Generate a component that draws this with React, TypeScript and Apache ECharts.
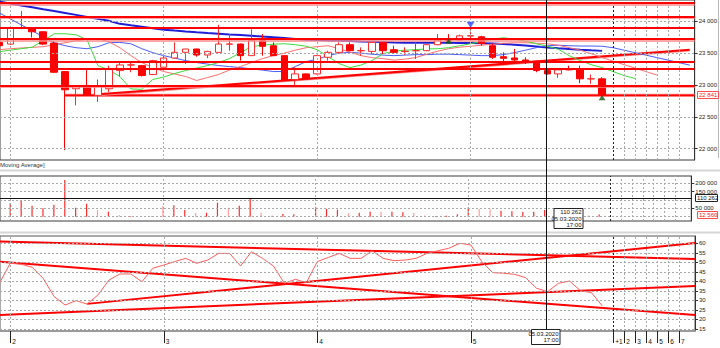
import React, { useEffect, useRef } from "react";
import * as echarts from "echarts";

// ---------- data (bar numbers: -1 = last bar of day 1, 0 = first bar of day 2, ...) ----------
const FIRST_BAR = -1;
const opens = [23669, 23643, 23895, 23888, 23836, 23659, 23210, 22940, 22992, 22836, 22940, 23226, 23313, 23304, 23164, 23278, 23424, 23513, 23565, 23471, 23513, 23641, 23643, 23461, 23695, 23617, 23461, 23086, 23174, 23174, 23435, 23513, 23633, 23537, 23528, 23669, 23554, 23526, 23537, 23539, 23633, 23721, 23705, 23770, 23758, 23617, 23445, 23424, 23393, 23372, 23226, 23174, 23252, 23252, 23094, 23096];
const closes = [23617, 23903, 23900, 23836, 23643, 23200, 22924, 22976, 22836, 22976, 23242, 23315, 23317, 23148, 23383, 23424, 23513, 23565, 23471, 23528, 23643, 23645, 23461, 23705, 23607, 23461, 23070, 23174, 23096, 23461, 23513, 23633, 23539, 23541, 23669, 23539, 23513, 23530, 23541, 23633, 23705, 23695, 23773, 23775, 23653, 23435, 23419, 23393, 23356, 23226, 23174, 23237, 23237, 23096, 23098, 22841];
const lows = [23600, 23630, 23877, 23747, 23630, 23190, 21976, 22680, 22830, 22732, 22888, 23133, 23200, 23133, 23155, 23270, 23420, 23330, 23445, 23424, 23508, 23539, 23383, 23455, 23461, 23455, 23060, 22992, 23090, 23165, 23383, 23497, 23530, 23461, 23487, 23487, 23487, 23471, 23409, 23530, 23625, 23690, 23700, 23705, 23617, 23410, 23330, 23330, 23330, 23200, 23165, 23112, 23230, 23028, 23018, 22820];
const highs = [23680, 23910, 24164, 23900, 23845, 23695, 23215, 22980, 23252, 23086, 23304, 23357, 23357, 23315, 23395, 23461, 23669, 23570, 23570, 23535, 23945, 23799, 23650, 23877, 23799, 23669, 23470, 23278, 23180, 23470, 23539, 23669, 23669, 23591, 23695, 23675, 23617, 23591, 23669, 23640, 23799, 23799, 23790, 23905, 23773, 23650, 23513, 23565, 23435, 23383, 23230, 23240, 23304, 23304, 23164, 23122];

const VOL_FIRST_BAR = 0;
const volumes = [80400, 94200, 66000, 50400, 72000, 220200, 54000, 78000, 40200, 30000, 10200, 4200, 4800, 4000, 64200, 68400, 40200, 24000, 24000, 84000, 54000, 66000, 108000, 24000, 6000, 16200, 14400, 4200, 60000, 46200, 42000, 20400, 24000, 30000, 30000, 30000, 26400, 24000, 6000, 4200, 6000, 14400, 56400, 46200, 44400, 36000, 32400, 28200, 30000, 40000, 22000, 15000, 18000, 6000, 12560];
const volLightBars = [8, 10, 14, 17, 20, 23, 31, 34, 37, 43, 44];

const rsi = [39, 49.5, 49.0, 47.4, 41.6, 32.0, 27.6, 29.9, 28.1, 32.9, 40.7, 43.9, 43.9, 39.8, 46.9, 48.6, 50.4, 52.1, 49.5, 51.2, 54.7, 54.7, 48.1, 55.6, 52.1, 48.1, 39.0, 41.1, 39.3, 50.4, 52.6, 54.7, 52.1, 52.1, 56.1, 52.1, 50.9, 51.2, 52.1, 54.7, 56.1, 57.4, 60.0, 59.1, 50.4, 44.6, 44.3, 43.7, 42.0, 36.4, 34.6, 39.0, 40.2, 35.1, 34.1, 27.1];

const maLong = [24312, 24281, 24250, 24222, 24192, 24164, 24133, 24102, 24070, 24039, 24008, 23961, 23938, 23917, 23891, 23870, 23855, 23841, 23828, 23816, 23805, 23794, 23784, 23773, 23761, 23750, 23738, 23723, 23711, 23706, 23700, 23695, 23691, 23684, 23680, 23675, 23669, 23664, 23664, 23664, 23664, 23664, 23661, 23658, 23655, 23652, 23645, 23633, 23620, 23605, 23589, 23577, 23566, 23555, 23545, 23536];
const jaw = [24133, 24039, 23945, 23852, 23758, 23664, 23617, 23586, 23570, 23602, 23664, 23669, 23648, 23570, 23508, 23461, 23422, 23383, 23352, 23328, 23305, 23289, 23273, 23253, 23234, 23211, 23211, 23289, 23367, 23406, 23461, 23500, 23513, 23500, 23484, 23469, 23461, 23469, 23477, 23477, 23484, 23484, 23477, 23469, 23461, 23461, 23477, 23508, 23547, 23586, 23617, 23625, 23617, 23612, 23612, 23609, 23586, 23547, 23508, 23469, 23430, 23391, 23352, 23312];
const teeth = [23555, 23570, 23581, 23591, 23602, 23633, 23664, 23695, 23719, 23727, 23680, 23586, 23461, 23352, 23273, 23211, 23172, 23133, 23070, 23117, 23164, 23234, 23289, 23352, 23414, 23461, 23500, 23547, 23586, 23602, 23617, 23570, 23516, 23461, 23430, 23414, 23391, 23406, 23430, 23484, 23531, 23570, 23594, 23609, 23625, 23641, 23656, 23664, 23664, 23656, 23648, 23625, 23586, 23547, 23492, 23430, 23375, 23320, 23266, 23211, 23156];
const lips = [23523, 23547, 23570, 23594, 23695, 23805, 23805, 23789, 23711, 23305, 23234, 23133, 22938, 22930, 23086, 23125, 23180, 23227, 23266, 23305, 23352, 23414, 23508, 23602, 23625, 23641, 23648, 23633, 23609, 23555, 23445, 23336, 23273, 23312, 23383, 23492, 23531, 23547, 23555, 23566, 23570, 23586, 23617, 23648, 23680, 23719, 23742, 23719, 23688, 23648, 23609, 23563, 23461, 23383, 23320, 23273, 23211, 23148, 23102];

const priceTicks = [22000, 22500, 23000, 23500, 24000];
const volTicks = [50000, 150000, 200000];
const volGrid = [0, 50000, 100000, 150000, 200000];
const rsiTicks = [15, 20, 25, 30, 35, 40, 45, 50, 55, 60];
const dayBars = [0, 14, 28, 42];
const futureBars = [55, 56, 57, 58, 59, 60, 61];
const timeTicks = [0, 14, 28, 42, 55, 56, 57, 58, 59, 60, 61];
const timeLabels = ["2", "3", "4", "5", "+1", "2", "3", "4", "5", "6", "7"];

const levelsStrong = [24294, 24075, 23894, 23722, 23367, 23253, 22984];
const levelsLight = [24258, 24050, 23697, 22970];
const rayStartBar = 5;
const rayPrice = 22836;
const trendMain = [[8, 22852], [62, 23552]];
const rsiTrendA = [[-0.94, 60.9], [62.45, 51.8]];
const rsiTrendB = [[-0.94, 50.3], [62.45, 22.3]];
const rsiTrendC = [[7, 28.2], [62.45, 60.1]];
const rsiTrendD = [[-0.94, 22.4], [62.45, 37.6]];

const fractalHigh = [[42, 23945]];
const fractalLow = [[40, 23686], [54, 22800]];

const crossBar = 49;
const crossVolume = 110262;
const crossDate = "05.03.2020";
const crossTime = "17:00";
const lastPrice = 22841;
const lastVolume = 12560;

// ---------- axis ranges ----------
const XMIN = -0.94;
const XMAX = 62.45;
const PMIN = 21820;
const PMAX = 24336;
const VMIN = -25800;
const VMAX = 244200;
const RMIN = 13.96;
const RMAX = 63.83;

const FONT = "Liberation Sans";
const RED = "#ff0000";
const RED_LIGHT = "#ff8a8a";

const fmt = (v: number) => String(Math.round(v)).replace(/\B(?=(\d{3})+(?!\d))/g, " ");
const pairs = (arr: number[], start: number) => arr.map((v, k) => [start + k, v]);

export default function App() {
  const ref = useRef<HTMLDivElement>(null);
  useEffect(() => {
    const chart = echarts.init(ref.current!, null, { renderer: "svg" });

    const yAxisBase = (grid: number, min: number, max: number, ticks: number[]) => ({
      type: "value",
      gridIndex: grid,
      position: "right",
      min,
      max,
      splitLine: { show: false },
      axisLine: { show: true, onZero: false, lineStyle: { color: "#333", width: 1 } },
      axisTick: { show: true, customValues: ticks, length: 3, lineStyle: { color: "#333" } },
      axisLabel: { customValues: ticks, formatter: (v: number) => fmt(v), fontSize: 6, margin: 4, color: "#222", fontFamily: FONT },
    });
    const xAxisHidden = (grid: number) => ({
      type: "value",
      gridIndex: grid,
      min: XMIN,
      max: XMAX,
      splitLine: { show: false },
      axisLine: { show: false, onZero: false },
      axisTick: { show: false },
      axisLabel: { show: false },
    });

    const dash = (color: string) => ({ color, type: [2, 2] as any, width: 1 });
    const vLines = [
      ...dayBars.map((b) => ({ xAxis: b, lineStyle: dash("#a8a8a8") })),
      ...futureBars.map((b, k) => ({ xAxis: b, lineStyle: dash(k === 0 ? "#222" : "#a8a8a8") })),
    ];
    const gridSeries = (grid: number, hValues: number[]) => ({
      type: "line",
      xAxisIndex: grid,
      yAxisIndex: grid,
      data: [],
      silent: true,
      z: 1,
      markLine: {
        silent: true,
        symbol: "none",
        animation: false,
        label: { show: false },
        lineStyle: dash("#a8a8a8"),
        data: [...hValues.map((v) => ({ yAxis: v })), ...vLines],
      },
    });

    const lineSeries = (grid: number, data: number[][], color: string, width: number, z: number) => ({
      type: "line",
      xAxisIndex: grid,
      yAxisIndex: grid,
      data,
      symbol: "none",
      silent: true,
      clip: true,
      z,
      lineStyle: { color, width },
    });

    const candleData = opens.map((o, k) => [FIRST_BAR + k, o, closes[k], lows[k], highs[k]]);
    const volData = volumes.map((v, k) => {
      const bar = VOL_FIRST_BAR + k;
      return { value: [bar, v], itemStyle: { color: volLightBars.includes(bar) ? "#ff9c9c" : "#ff2a2a" } };
    });

    const option: any = {
      animation: false,
      textStyle: { fontFamily: FONT },
      grid: [
        { left: -1, top: -1, width: 696, height: 161, show: true, borderColor: "#3a3a3a", borderWidth: 1 },
        { left: -1, top: 176, width: 696, height: 45, show: true, borderColor: "#3a3a3a", borderWidth: 1 },
        { left: -1, top: 236, width: 696, height: 95, show: true, borderColor: "#555", borderWidth: 1 },
      ],
      xAxis: [
        xAxisHidden(0),
        xAxisHidden(1),
        {
          type: "value",
          gridIndex: 2,
          min: XMIN,
          max: XMAX,
          splitLine: { show: false },
          axisLine: { show: true, onZero: false, lineStyle: { color: "#9a9a9a", width: 2 } },
          axisTick: { show: true, customValues: timeTicks, length: 12, lineStyle: { color: "#222" } },
          axisLabel: {
            customValues: timeTicks,
            formatter: (v: number) => timeLabels[timeTicks.indexOf(v)] ?? "",
            align: "left",
            margin: 7,
            padding: [0, 0, 0, 2],
            fontSize: 6.5,
            color: "#111",
            fontFamily: FONT,
          },
        },
      ],
      yAxis: [
        yAxisBase(0, PMIN, PMAX, priceTicks),
        yAxisBase(1, VMIN, VMAX, volTicks),
        yAxisBase(2, RMIN, RMAX, rsiTicks),
      ],
      series: [
        gridSeries(0, priceTicks),
        gridSeries(1, volGrid),
        gridSeries(2, rsiTicks),
        // price levels
        {
          type: "line",
          xAxisIndex: 0,
          yAxisIndex: 0,
          data: [],
          silent: true,
          z: 2,
          markLine: {
            silent: true,
            symbol: "none",
            animation: false,
            label: { show: false },
            data: [
              ...levelsLight.map((v) => ({ yAxis: v, lineStyle: { color: RED_LIGHT, width: 1.5, type: "solid" } })),
              ...levelsStrong.map((v) => ({ yAxis: v, lineStyle: { color: RED, width: 2, type: "solid" } })),
            ],
          },
        },
        lineSeries(0, [[rayStartBar, rayPrice + 14], [XMAX, rayPrice + 14]], RED_LIGHT, 1.5, 2),
        lineSeries(0, [[rayStartBar, rayPrice], [XMAX, rayPrice]], RED, 2, 2),
        lineSeries(0, trendMain.map(([x, y]) => [x, y - 16]), RED_LIGHT, 1.5, 2),
        lineSeries(0, trendMain, RED, 2, 2),
        // moving averages / alligator
        lineSeries(0, pairs(maLong, FIRST_BAR), "#1f1fd6", 2, 3),
        lineSeries(0, pairs(jaw, FIRST_BAR), "#4a5cf5", 1, 3),
        lineSeries(0, pairs(teeth, FIRST_BAR), "#ff6f6f", 1, 3),
        lineSeries(0, pairs(lips, FIRST_BAR), "#3ddc3d", 1, 3),
        {
          type: "candlestick",
          xAxisIndex: 0,
          yAxisIndex: 0,
          data: candleData,
          barWidth: 7,
          clip: true,
          silent: true,
          z: 4,
          itemStyle: { color: "#ffffff", color0: "#ff0000", borderColor: "#ff2a2a", borderColor0: "#ff0000", borderWidth: 1 },
        },
        {
          type: "scatter",
          xAxisIndex: 0,
          yAxisIndex: 0,
          data: fractalHigh,
          symbol: "triangle",
          symbolRotate: 180,
          symbolSize: [8, 6],
          silent: true,
          z: 5,
          itemStyle: { color: "#2a46ff" },
        },
        {
          type: "scatter",
          xAxisIndex: 0,
          yAxisIndex: 0,
          data: fractalLow,
          symbol: "triangle",
          symbolSize: [7, 5],
          silent: true,
          z: 5,
          itemStyle: { color: "#0d5c0d" },
        },
        // volume
        {
          type: "bar",
          xAxisIndex: 1,
          yAxisIndex: 1,
          data: volData,
          barWidth: 1.2,
          silent: true,
          z: 3,
        },
        {
          type: "line",
          xAxisIndex: 1,
          yAxisIndex: 1,
          data: [],
          silent: true,
          z: 6,
          markLine: {
            silent: true,
            symbol: "none",
            animation: false,
            label: { show: false },
            data: [{ yAxis: crossVolume, lineStyle: { color: "#111", width: 1, type: "solid" } }],
          },
        },
        // oscillator
        lineSeries(2, rsiTrendA, RED, 2, 2),
        lineSeries(2, rsiTrendB, RED, 2, 2),
        lineSeries(2, rsiTrendC, RED, 2, 2),
        lineSeries(2, rsiTrendD, RED, 2, 2),
        lineSeries(2, pairs(rsi, FIRST_BAR), "#ff5c5c", 1, 3),
      ],
    };
    chart.setOption(option);

    const px = Math.round(chart.convertToPixel({ xAxisIndex: 0 } as any, crossBar) as number) - 0.5;
    const pyPrice = chart.convertToPixel({ yAxisIndex: 0 } as any, lastPrice) as number;
    const pyVolCross = chart.convertToPixel({ yAxisIndex: 1 } as any, crossVolume) as number;
    const pyVolLast = chart.convertToPixel({ yAxisIndex: 1 } as any, lastVolume) as number;
    const small = { fontSize: 6, fontFamily: FONT };

    chart.setOption({
      graphic: {
        elements: [
          { type: "rect", silent: true, shape: { x: 0, y: 169.5, width: 720, height: 2 }, style: { fill: "#d6d6d6" } },
          { type: "rect", silent: true, shape: { x: 0, y: 231.5, width: 720, height: 2 }, style: { fill: "#d6d6d6" } },
          { type: "text", silent: true, x: 0, y: 165, style: { text: "Moving Average]", fill: "#333", verticalAlign: "middle", ...small } },
          { type: "line", silent: true, shape: { x1: 718.5, y1: 0, x2: 718.5, y2: 158 }, style: { stroke: "#b8b8b8", lineWidth: 1 } },
          // crosshair
          { type: "line", silent: true, z: 100, shape: { x1: px, y1: 0, x2: px, y2: 331 }, style: { stroke: "#111", lineWidth: 1 } },
          { type: "rect", silent: true, z: 101, shape: { x: px + 7.5, y: 208.5, width: 29, height: 20 }, style: { fill: "#fff", stroke: "#222", lineWidth: 1 } },
          { type: "text", silent: true, z: 102, x: px + 35, y: 212, style: { text: fmt(crossVolume), align: "right", verticalAlign: "middle", fill: "#111", ...small } },
          { type: "text", silent: true, z: 102, x: px + 35, y: 218.5, style: { text: crossDate, align: "right", verticalAlign: "middle", fill: "#111", ...small } },
          { type: "text", silent: true, z: 102, x: px + 35, y: 225, style: { text: crossTime, align: "right", verticalAlign: "middle", fill: "#111", ...small } },
          { type: "rect", silent: true, z: 101, shape: { x: px - 15, y: 329.5, width: 28.5, height: 15 }, style: { fill: "#fff", stroke: "#222", lineWidth: 1 } },
          { type: "text", silent: true, z: 102, x: px + 12, y: 333.5, style: { text: crossDate, align: "right", verticalAlign: "middle", fill: "#111", ...small } },
          { type: "text", silent: true, z: 102, x: px + 12, y: 340, style: { text: crossTime, align: "right", verticalAlign: "middle", fill: "#111", ...small } },
          // right-axis value boxes
          { type: "rect", silent: true, z: 101, shape: { x: 697.5, y: Math.round(pyPrice) - 3.5, width: 21, height: 7 }, style: { fill: "#fff", stroke: "#ff4d4d", lineWidth: 1 } },
          { type: "text", silent: true, z: 102, x: 699, y: pyPrice, style: { text: fmt(lastPrice), verticalAlign: "middle", fill: "#ff2020", ...small } },
          { type: "rect", silent: true, z: 101, shape: { x: 695.5, y: Math.round(pyVolCross) - 3.5, width: 22, height: 7 }, style: { fill: "#fff", stroke: "#222", lineWidth: 1 } },
          { type: "text", silent: true, z: 102, x: 697, y: pyVolCross, style: { text: fmt(crossVolume), verticalAlign: "middle", fill: "#111", ...small } },
          { type: "rect", silent: true, z: 101, shape: { x: 697.5, y: Math.round(pyVolLast) - 3.5, width: 20, height: 7 }, style: { fill: "#fff", stroke: "#ff4d4d", lineWidth: 1 } },
          { type: "text", silent: true, z: 102, x: 699, y: pyVolLast, style: { text: fmt(lastVolume), verticalAlign: "middle", fill: "#ff2020", ...small } },
        ],
      },
    });

    return () => chart.dispose();
  }, []);
  return <div ref={ref} style={{ position: "fixed", left: 0, top: 0, width: 720, height: 348, background: "#fff" }} />;
}
